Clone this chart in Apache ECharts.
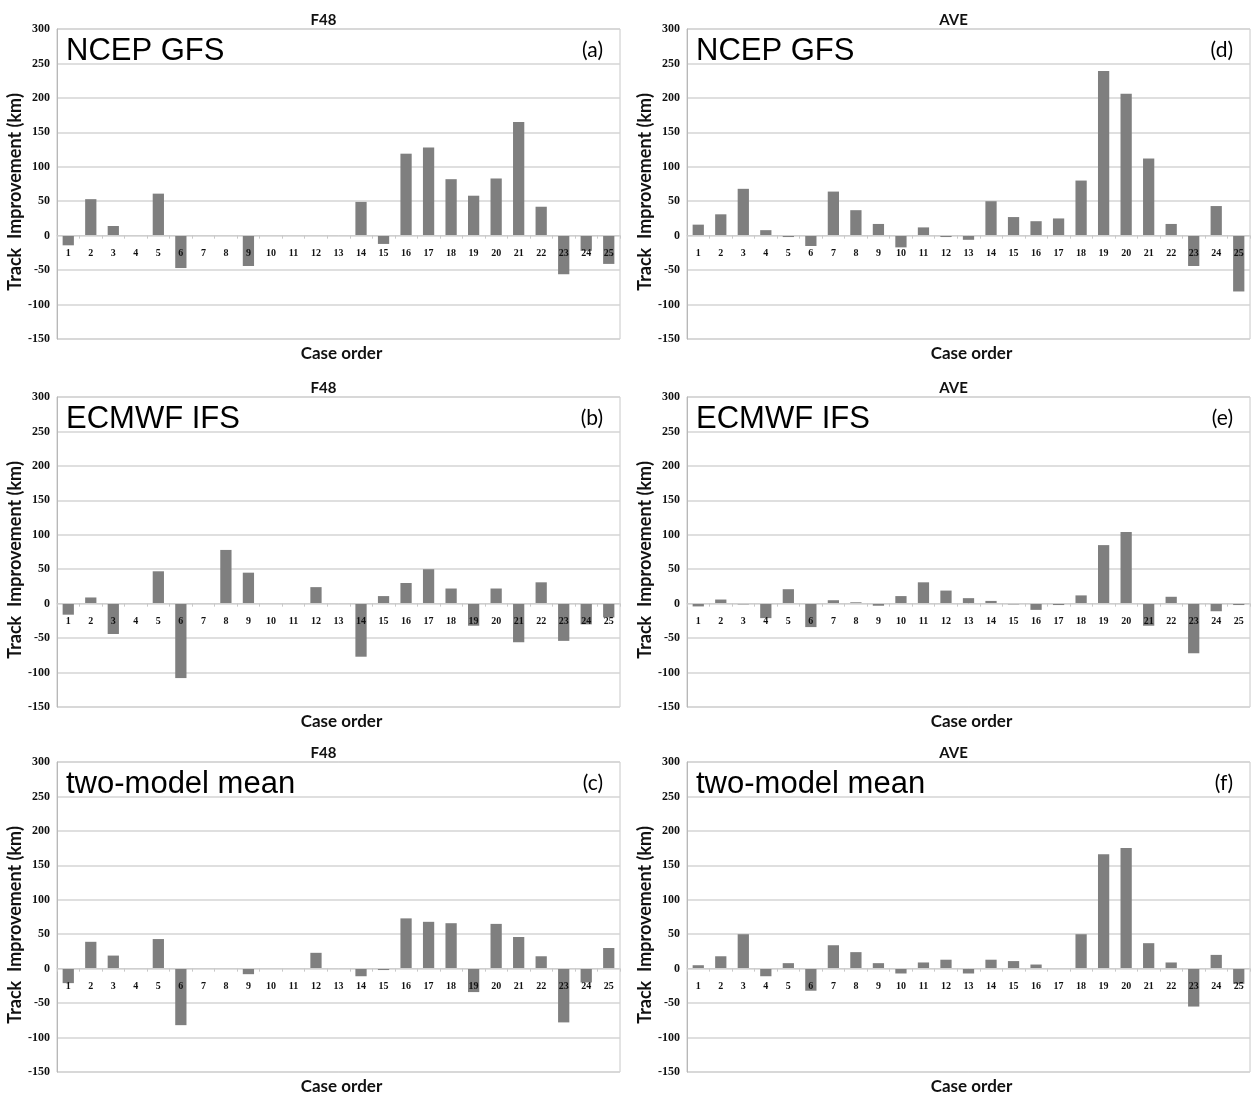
<!DOCTYPE html>
<html>
<head>
<meta charset="utf-8">
<script src="https://cdn.jsdelivr.net/npm/echarts@6/dist/echarts.min.js"></script>
<style>
  html, body { margin: 0; padding: 0; background: #fff; }
  #chart { width: 1253px; height: 1094px; }
</style>
</head>
<body>
<div id="chart"></div>
<script>
// case numbers on the x axis
const caseOrder = ['1','2','3','4','5','6','7','8','9','10','11','12','13','14','15','16','17','18','19','20','21','22','23','24','25']

// track improvement (km)
const gfsF48  = [-14, 53, 14, 0, 61, -47, 0, 0, -44, 0, 0, 1, 0, 49, -12, 119, 128, 82, 58, 83, 165, 42, -56, -22, -41]
const gfsAve  = [16, 31, 68, 8, -2, -15, 64, 37, 17, -17, 12, -2, -6, 50, 27, 21, 25, 80, 239, 206, 112, 17, -44, 43, -81]
const ifsF48  = [-16, 9, -44, 0, 47, -108, 0, 78, 45, 0, 0, 24, 0, -77, 11, 30, 50, 22, -32, 22, -56, 31, -54, -30, -20]
const ifsAve  = [-4, 6, -1, -21, 21, -34, 5, 2, -3, 11, 31, 19, 8, 4, -1, -9, -2, 12, 85, 104, -32, 10, -72, -11, -2]
const meanF48 = [-21, 39, 19, 0, 43, -82, 0, 0, -8, 0, 0, 23, 0, -11, -2, 73, 68, 66, -34, 65, 46, 18, -78, -20, 30]
const meanAve = [5, 18, 50, -11, 8, -32, 34, 24, 8, -7, 9, 13, -7, 13, 11, 6, 1, 50, 166, 175, 37, 9, -55, 20, -22]

const yMin = -150
const yMax = 300

const panels = [
  { data: gfsF48,  head: 'F48', model: 'NCEP GFS',        tag: '(a)', col: 0, row: 0 },
  { data: ifsF48,  head: 'F48', model: 'ECMWF IFS',       tag: '(b)', col: 0, row: 1 },
  { data: meanF48, head: 'F48', model: 'two-model mean',  tag: '(c)', col: 0, row: 2 },
  { data: gfsAve,  head: 'AVE', model: 'NCEP GFS',        tag: '(d)', col: 1, row: 0 },
  { data: ifsAve,  head: 'AVE', model: 'ECMWF IFS',       tag: '(e)', col: 1, row: 1 },
  { data: meanAve, head: 'AVE', model: 'two-model mean',  tag: '(f)', col: 1, row: 2 },
]

const colLeft = [57, 687]
const rowTop = [29, 397, 762]
const plotW = 563
const plotH = 310
// lift the category axis from the bottom edge up to the zero line
const zeroLift = plotH * (0 - yMin) / (yMax - yMin)

const chart = echarts.init(document.getElementById('chart'))

const grid = [], xAxis = [], yAxis = [], series = [], title = []

panels.forEach((p, i) => {
  const left = colLeft[p.col]
  const top = rowTop[p.row]
  grid.push({
    left: left, top: top, width: plotW, height: plotH,
    show: true, borderColor: '#c8c8c8', borderWidth: 1, backgroundColor: '#fff',
  })
  xAxis.push({
    type: 'category', gridIndex: i, data: caseOrder, z: 3,
    offset: -zeroLift,
    axisLine: { onZero: false, lineStyle: { color: '#cfcfcf', width: 1 } },
    axisTick: { show: true, length: 3, lineStyle: { color: '#c8c8c8' } },
    axisLabel: { margin: 13, fontFamily: 'Liberation Serif', fontWeight: 'bold', fontSize: 10, color: '#111' },
  })
  yAxis.push({
    type: 'value', gridIndex: i, min: yMin, max: yMax, interval: 50,
    name: 'Track  Improvement (km)', nameLocation: 'middle', nameGap: 30,
    nameTextStyle: { fontFamily: 'Lato', fontWeight: 'bold', fontSize: 18, color: '#111',
      padding: [0, 16, 0, 0] },
    axisLine: { show: true, lineStyle: { color: '#b8b8b8' } },
    axisTick: { show: false },
    axisLabel: { margin: 7, fontFamily: 'Liberation Serif', fontWeight: 'bold', fontSize: 12, color: '#111' },
    splitLine: { lineStyle: { color: '#d4d4d4', width: 1.5 } },
  })
  series.push({
    type: 'bar', xAxisIndex: i, yAxisIndex: i, data: p.data,
    barWidth: '50%', itemStyle: { color: '#7f7f7f' }, silent: true,
  })
  // panel heading (F48 / AVE)
  title.push({
    text: p.head, left: left + plotW / 2 - 20, top: top - 21, textAlign: 'center',
    textStyle: { fontFamily: 'Lato', fontWeight: 'bold', fontSize: 15, color: '#111' },
  })
  // case order label under the plot
  title.push({
    text: 'Case order', left: left + plotW / 2 - 2, top: top + plotH + 1, textAlign: 'center',
    textStyle: { fontFamily: 'Lato', fontWeight: 'bold', fontSize: 17, color: '#111' },
  })
  // model name inside the plot
  title.push({
    text: p.model, left: left + 4, top: top + 2,
    textStyle: { fontFamily: 'Liberation Sans', fontWeight: 'normal', fontSize: 31, color: '#000' },
  })
  // panel tag
  title.push({
    text: p.tag, left: left + plotW - 22, top: top + 6, textAlign: 'right',
    textStyle: { fontFamily: 'Lato', fontWeight: 'normal', fontSize: 21, color: '#000' },
  })
})

chart.setOption({
  animation: false,
  backgroundColor: '#fff',
  title: title,
  grid: grid,
  xAxis: xAxis,
  yAxis: yAxis,
  series: series,
})
</script>
</body>
</html>
